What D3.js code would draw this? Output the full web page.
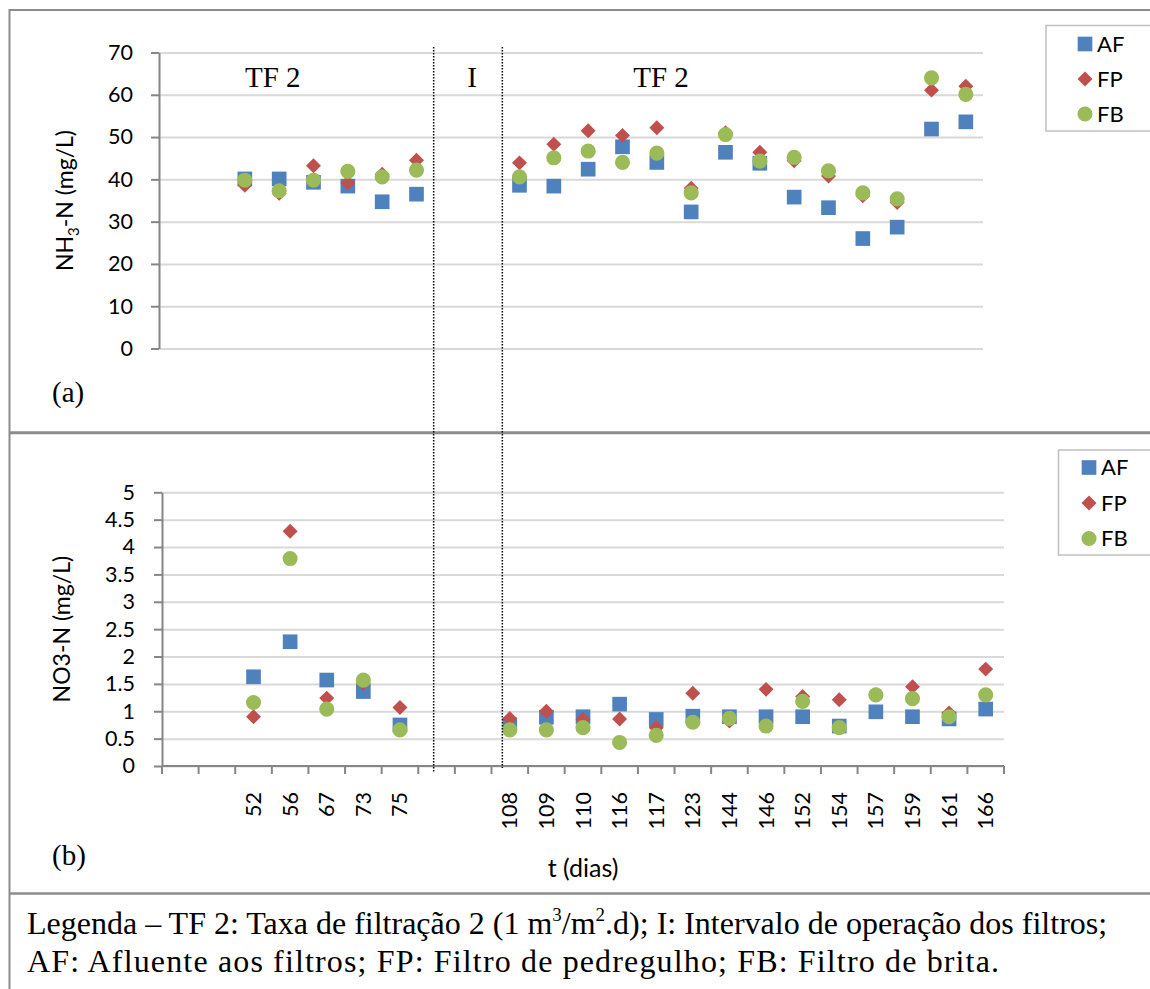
<!DOCTYPE html>
<html>
<head>
<meta charset="utf-8">
<script src="https://cdn.jsdelivr.net/npm/d3@7"></script>
<style>
  body { margin: 0; background: #fff; }
</style>
</head>
<body>
<div id="chart"></div>
<script>
// top panel slots: blanks are empty categories (no labels shown on this panel)
const topCats = ['', '', 'a1', 'a2', 'a3', 'a4', 'a5', 'a6', '', '',
  'b1', 'b2', 'b3', 'b4', 'b5', 'b6', 'b7', 'b8', 'b9', 'b10', 'b11', 'b12', 'b13', 'b14'];
const nh3AF = [40.1, 40.1, 39.3, 38.4, 34.7, 36.5, 38.6, 38.4, 42.4, 47.7, 44.0, 32.3, 46.4, 43.8, 35.8, 33.3, 26.0, 28.7, 51.9, 53.6];
const nh3FP = [38.6, 36.7, 43.2, 39.2, 41.2, 44.5, 43.9, 48.3, 51.5, 50.4, 52.2, 37.9, 51.0, 46.4, 44.4, 40.8, 36.1, 34.5, 61.1, 62.0];
const nh3FB = [39.8, 37.3, 39.8, 41.9, 40.6, 42.2, 40.6, 45.1, 46.7, 44.0, 46.2, 36.8, 50.6, 44.3, 45.2, 42.0, 36.8, 35.4, 64.0, 60.1];
const nh3Ticks = [0, 10, 20, 30, 40, 50, 60, 70];

// bottom panel days (t, dias)
const days = ['', '', '52', '56', '67', '73', '75', '', '',
  '108', '109', '110', '116', '117', '123', '144', '146', '152', '154', '157', '159', '161', '166'];
const no3AF = [1.63, 2.27, 1.57, 1.36, 0.75, 0.75, 0.89, 0.90, 1.13, 0.85, 0.91, 0.90, 0.90, 0.90, 0.73, 0.99, 0.90, 0.86, 1.04];
const no3FP = [0.90, 4.29, 1.24, 1.51, 1.07, 0.87, 1.00, 0.85, 0.86, 0.70, 1.33, 0.82, 1.40, 1.27, 1.21, 1.30, 1.45, 0.97, 1.77];
const no3FB = [1.16, 3.79, 1.04, 1.57, 0.66, 0.66, 0.66, 0.70, 0.43, 0.56, 0.80, 0.87, 0.73, 1.18, 0.70, 1.30, 1.23, 0.90, 1.30];
const no3Ticks = [0, 0.5, 1, 1.5, 2, 2.5, 3, 3.5, 4, 4.5, 5];

const seriesNames = ['AF', 'FP', 'FB'];
const seriesColors = ['#4F81BD', '#C0504D', '#9BBB59'];
const seriesSymbols = [d3.symbolSquare, d3.symbolSquare, d3.symbolCircle];
const symbolSizes = [215, 112, 180];
const symbolRotate = [0, 45, 0];

const width = 1150, height = 989;
const sans = 'Lato, "Open Sans", sans-serif';
const serif = '"Liberation Serif", serif';
const frameColor = '#8c8c8c';

const svg = d3.select('#chart').append('svg')
  .attr('width', width)
  .attr('height', height)
  .style('background', '#fff');

function filledSlots(cats) {
  return cats.map((c, i) => c === '' ? -1 : i).filter(i => i >= 0);
}

function drawPanel(p) {
  const x = d3.scaleBand().domain(d3.range(p.cats.length)).range([p.left, p.right]);
  const y = d3.scaleLinear().domain([0, d3.max(p.ticks)]).range([p.bottom, p.top]);
  const g = svg.append('g');

  // gridlines
  g.append('g')
    .attr('transform', `translate(${p.left},0)`)
    .call(d3.axisLeft(y).tickValues(p.ticks).tickSize(-(p.right - p.left)).tickFormat(''))
    .call(s => s.select('.domain').remove())
    .call(s => s.selectAll('line').attr('stroke', '#d9d9d9').attr('stroke-width', 2));

  // y axis
  g.append('g')
    .attr('transform', `translate(${p.left},0)`)
    .call(d3.axisLeft(y).tickValues(p.ticks).tickSize(8).tickSizeOuter(0)
      .tickPadding(p.tickPad).tickFormat(d3.format('~g')))
    .call(s => s.select('.domain').attr('stroke', '#868686').attr('stroke-width', 2))
    .call(s => s.selectAll('line').attr('stroke', '#868686').attr('stroke-width', 2))
    .call(s => s.selectAll('text').attr('fill', '#000')
      .attr('font-family', sans).attr('font-size', 21.5));

  if (p.showX) {
    const xa = g.append('g').attr('transform', `translate(0,${p.bottom})`);
    xa.append('line')
      .attr('x1', p.left).attr('x2', p.right)
      .attr('stroke', '#868686').attr('stroke-width', 2);
    xa.selectAll('line.tick')
      .data(d3.range(p.cats.length + 1))
      .join('line')
        .attr('class', 'tick')
        .attr('x1', i => p.left + i * x.step())
        .attr('x2', i => p.left + i * x.step())
        .attr('y1', 0).attr('y2', 8)
        .attr('stroke', '#868686').attr('stroke-width', 2);
    xa.selectAll('text')
      .data(filledSlots(p.cats))
      .join('text')
        .attr('transform', i => `translate(${x(i) + x.bandwidth() / 2},26) rotate(-90)`)
        .attr('text-anchor', 'end')
        .attr('dy', '0.35em')
        .attr('font-family', sans)
        .attr('font-size', 21.5)
        .text(i => p.cats[i]);
  }

  // points
  const slots = filledSlots(p.cats);
  p.series.forEach((vals, k) => {
    g.append('g')
      .selectAll('path')
      .data(vals)
      .join('path')
        .attr('d', d3.symbol().type(seriesSymbols[k]).size(symbolSizes[k]))
        .attr('transform', (v, i) =>
          `translate(${x(slots[i]) + x.bandwidth() / 2},${y(v)}) rotate(${symbolRotate[k]})`)
        .attr('fill', seriesColors[k]);
  });

  // y title
  const t = g.append('text')
    .attr('transform', `translate(${p.titleX},${(p.top + p.bottom) / 2}) rotate(-90)`)
    .attr('text-anchor', 'middle')
    .attr('font-family', sans)
    .attr('font-size', 23);
  p.title(t);

  // legend
  const lg = g.append('g');
  lg.append('rect')
    .attr('x', p.legend.x).attr('y', p.legend.y)
    .attr('width', 130).attr('height', p.legend.h)
    .attr('fill', '#fff').attr('stroke', '#c0c0c0').attr('stroke-width', 1.5);
  seriesNames.forEach((name, k) => {
    const cy = p.legend.y + p.legend.first + k * p.legend.gap;
    lg.append('path')
      .attr('d', d3.symbol().type(seriesSymbols[k]).size(symbolSizes[k]))
      .attr('transform', `translate(${p.legend.mx},${cy}) rotate(${symbolRotate[k]})`)
      .attr('fill', seriesColors[k]);
    lg.append('text')
      .attr('x', p.legend.mx + 12).attr('y', cy)
      .attr('dy', '0.36em')
      .attr('font-family', sans).attr('font-size', 22)
      .text(name);
  });

  return x;
}

// frame
const frame = svg.append('g').attr('stroke', frameColor);
frame.append('line').attr('x1', 9).attr('x2', width).attr('y1', 10).attr('y2', 10).attr('stroke-width', 2);
frame.append('line').attr('x1', 9.5).attr('x2', 9.5).attr('y1', 9).attr('y2', height).attr('stroke-width', 2);
frame.append('line').attr('x1', 9).attr('x2', width).attr('y1', 432.7).attr('y2', 432.7).attr('stroke-width', 3);
frame.append('line').attr('x1', 9).attr('x2', width).attr('y1', 893.5).attr('y2', 893.5).attr('stroke-width', 2.5);

const xTop = drawPanel({
  cats: topCats, ticks: nh3Ticks, series: [nh3AF, nh3FP, nh3FB],
  left: 159, right: 983, top: 52.5, bottom: 348.5, tickPad: 18, showX: false,
  titleX: 73,
  title: t => {
    t.append('tspan').text('NH');
    t.append('tspan').attr('font-size', 15).attr('dy', 6).text('3');
    t.append('tspan').attr('dy', -6).text('-N (mg/L)');
  },
  legend: { x: 1046, y: 25.5, h: 105.5, mx: 1085, first: 18.5, gap: 35 }
});

drawPanel({
  cats: days, ticks: no3Ticks, series: [no3AF, no3FP, no3FB],
  left: 162, right: 1004, top: 492.3, bottom: 766, tickPad: 19, showX: true,
  titleX: 70,
  title: t => t.text('NO3-N (mg/L)'),
  legend: { x: 1058.5, y: 450, h: 105, mx: 1089, first: 17.5, gap: 35.5 }
});

// interval markers (dotted), at the blank slots of the top panel
const gapStart = topCats.indexOf('', 3);
const gapEnd = topCats.findIndex((c, i) => i > gapStart && c !== '');
[gapStart, gapEnd].forEach((i, k) => {
  svg.append('line')
    .attr('x1', xTop(i)).attr('x2', xTop(i))
    .attr('y1', 47).attr('y2', k === 0 ? 772 : 768)
    .attr('stroke', '#000').attr('stroke-width', 1.5)
    .attr('stroke-dasharray', '1.5,1.5');
});

// annotations
const ann = svg.append('g').attr('font-family', serif).attr('font-size', 29).attr('fill', '#000');
ann.append('text').attr('x', 245).attr('y', 87).text('TF 2');
ann.append('text').attr('x', 472).attr('y', 87).attr('text-anchor', 'middle').text('I');
ann.append('text').attr('x', 661).attr('y', 87).attr('text-anchor', 'middle').text('TF 2');
ann.append('text').attr('x', 52).attr('y', 402).text('(a)');
ann.append('text').attr('x', 52).attr('y', 865).text('(b)');

svg.append('text')
  .attr('x', 583).attr('y', 877)
  .attr('text-anchor', 'middle')
  .attr('font-family', sans).attr('font-size', 25)
  .text('t (dias)');

// caption
const cap = svg.append('g').attr('fill', '#000');
const l1 = cap.append('text').attr('x', 27).attr('y', 934)
  .style('font-family', serif).style('font-size', '32px');
l1.append('tspan').text('Legenda \u2013 TF 2: Taxa de filtração 2 (1 m');
l1.append('tspan').style('font-size', '19px').attr('dy', -13).text('3');
l1.append('tspan').attr('dy', 13).text('/m');
l1.append('tspan').style('font-size', '19px').attr('dy', -13).text('2');
l1.append('tspan').attr('dy', 13).text('.d); I: Intervalo de operação dos filtros;');
cap.append('text').attr('x', 27).attr('y', 972)
  .style('font-family', serif).style('font-size', '32px')
  .attr('textLength', 972).attr('lengthAdjust', 'spacing')
  .text('AF: Afluente aos filtros; FP: Filtro de pedregulho; FB: Filtro de brita.');
</script>
</body>
</html>
